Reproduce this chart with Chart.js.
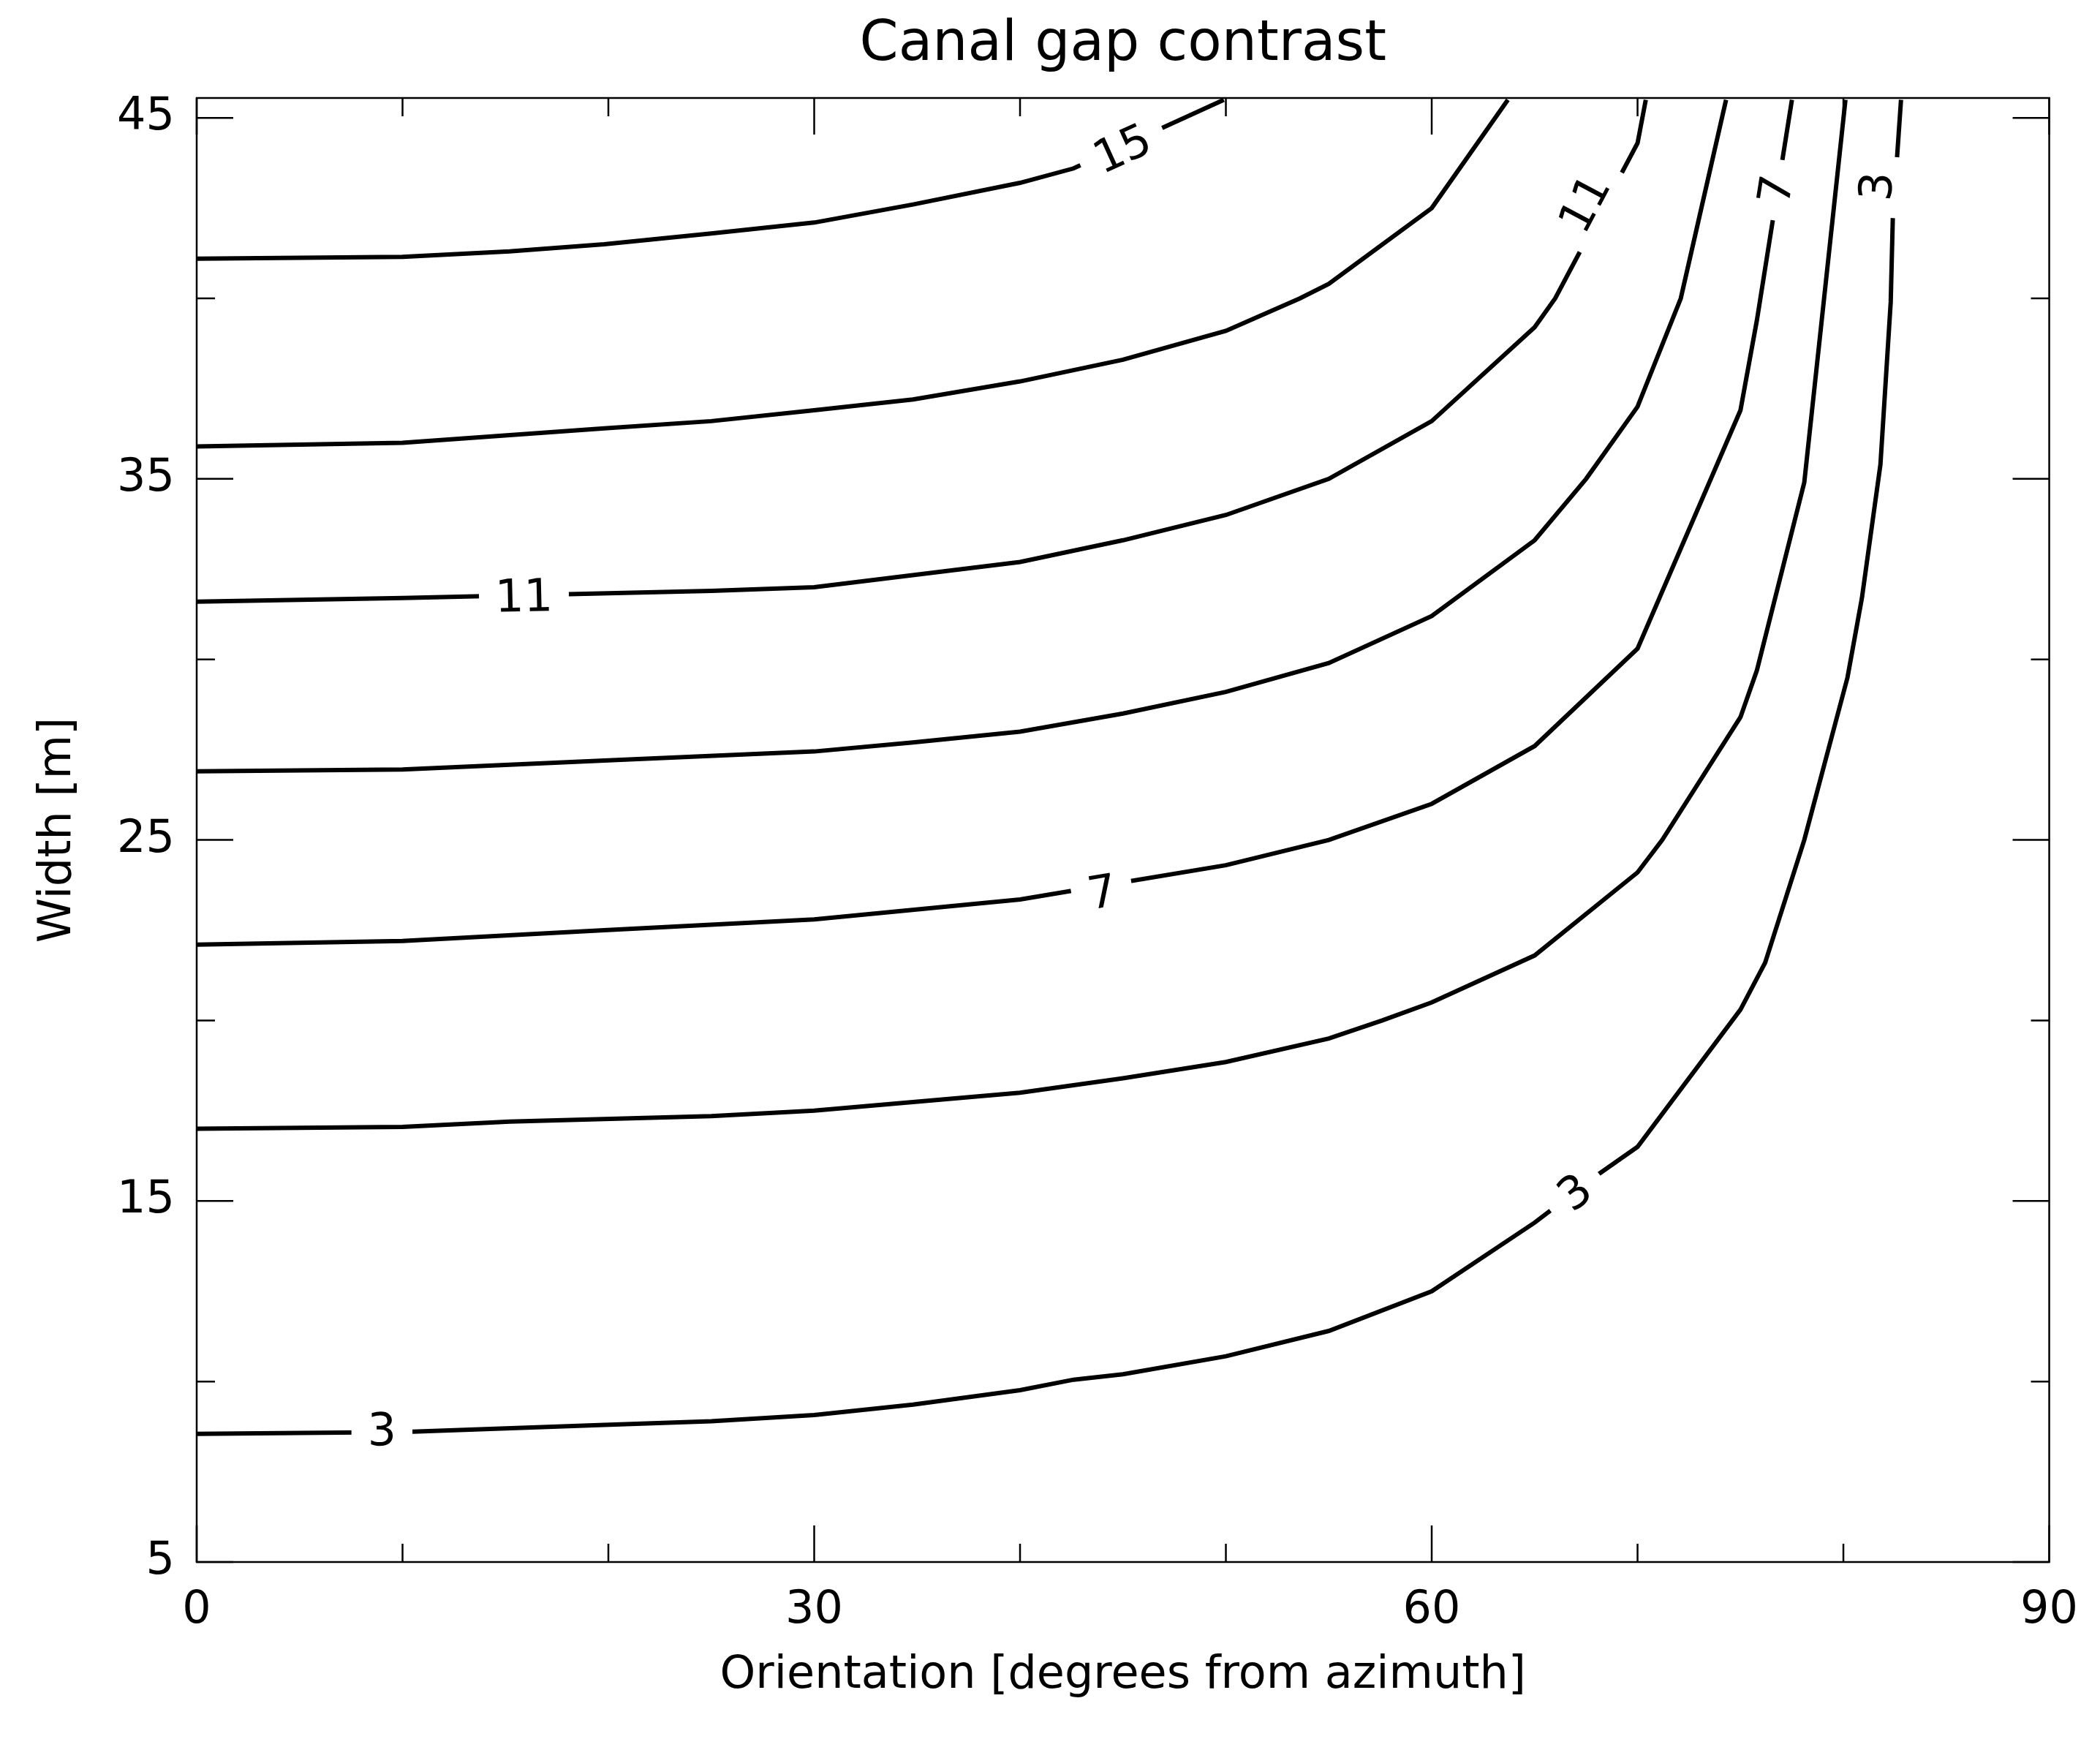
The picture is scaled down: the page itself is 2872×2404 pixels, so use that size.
<!DOCTYPE html>
<html>
<head>
<meta charset="utf-8">
<script src="https://cdn.jsdelivr.net/npm/chart.js@4/dist/chart.umd.min.js"></script>
<style>
  html, body { margin: 0; padding: 0; background: #fff; }
  #wrap { width: 2872px; height: 2404px; }
</style>
</head>
<body>
<div id="wrap"><canvas id="c"></canvas></div>
<script>
// contour lines of canal gap contrast, [orientation deg, width m]
var level3 = [[0,8.55],[10,8.6],[19.8,8.8],[25,8.9],[30,9.07],[34.8,9.36],[40,9.76],[42.6,10.05],[45,10.2],[50,10.7],[55,11.4],[60,12.5],[65,14.4],[68,15.7],[70,16.5],[75,20.3],[76.2,21.6],[78.1,25],[80.2,29.5],[80.9,31.7],[81.8,35.4],[82.3,39.9],[82.4,42.2],[82.8,45.5]];
var level5 = [[0,17.0],[10,17.05],[15.2,17.2],[25,17.35],[30,17.5],[40,18.0],[45,18.4],[50,18.85],[55,19.5],[57.6,20.0],[60,20.5],[65,21.8],[70,24.1],[71.2,25.0],[75,28.4],[75.8,29.7],[78.1,34.9],[80.1,45.5]];
var level7 = [[0,22.1],[10,22.2],[19.8,22.5],[30,22.8],[40,23.35],[42.6,23.6],[50,24.3],[55,25.0],[60,26.0],[65,27.6],[70,30.3],[75,36.9],[75.8,39.4],[77.5,45.5]];
var level9 = [[0,26.9],[10,26.95],[19.8,27.2],[30,27.45],[34.8,27.7],[40,28.0],[45,28.5],[50,29.1],[55,29.9],[60,31.2],[65,33.3],[67.5,35.0],[70,37.0],[72.1,40.0],[74.3,45.5]];
var level11 = [[0,31.6],[10,31.7],[25,31.9],[30,32.0],[40,32.7],[45,33.3],[50,34.0],[55,35.0],[60,36.6],[65,39.2],[66,40.0],[70,44.3],[70.4,45.5]];
var level13 = [[0,35.9],[10,36.0],[19.8,36.4],[25,36.6],[30,36.9],[34.8,37.2],[40,37.7],[45,38.3],[50,39.1],[53.6,40.0],[55,40.4],[60,42.5],[63.7,45.5]];
var level15 = [[0,41.1],[10,41.15],[15.2,41.3],[19.8,41.5],[25,41.8],[30,42.1],[34.8,42.6],[40,43.2],[42.6,43.6],[49.9,45.5]];

var contourLines = [level3, level5, level7, level9, level11, level13, level15];

// contour labels: text, x, y
var labelText = ['3', '3', '3', '7', '7', '11', '11', '15'];
var labelX = [9, 67, 81.7, 44, 76.8, 15.9, 67.5, 45];
var labelY = [8.6, 15.2, 43.1, 23.5, 43.0, 31.7, 42.6, 44.1];
var labelLine = [0, 0, 0, 2, 2, 4, 4, 6];

var xTicks = [0, 30, 60, 90];
var xMinor = [10, 20, 40, 50, 70, 80];
var yTicks = [5, 15, 25, 35, 45];
var yMinor = [10, 20, 30, 40];

var FONT = 'DejaVu Sans';

function slopeAt(line, x, y, xs, ys) {
	// nearest segment to the label point, angle in pixel space
	var best = 0, bd = 1e9;
	for (var i = 0; i < line.length - 1; i++) {
		var mx = (xs.getPixelForValue(line[i][0]) + xs.getPixelForValue(line[i+1][0])) / 2;
		var my = (ys.getPixelForValue(line[i][1]) + ys.getPixelForValue(line[i+1][1])) / 2;
		var d = Math.hypot(mx - xs.getPixelForValue(x), my - ys.getPixelForValue(y));
		if (d < bd) { bd = d; best = i; }
	}
	var dx = xs.getPixelForValue(line[best+1][0]) - xs.getPixelForValue(line[best][0]);
	var dy = ys.getPixelForValue(line[best+1][1]) - ys.getPixelForValue(line[best][1]);
	var a = Math.atan2(dy, dx);
	if (a > Math.PI / 2) a -= Math.PI;
	if (a < -Math.PI / 2) a += Math.PI;
	return a;
}

var framePlugin = {
	id: 'frame',
	afterDatasetsDraw: function(chart) {
		var ctx = chart.ctx, a = chart.chartArea;
		var xs = chart.scales.x, ys = chart.scales.y;
		ctx.save();
		// contour labels
		ctx.font = '62px ' + FONT;
		ctx.textAlign = 'center';
		ctx.textBaseline = 'middle';
		for (var i = 0; i < labelText.length; i++) {
			var px = xs.getPixelForValue(labelX[i]), py = ys.getPixelForValue(labelY[i]);
			var ang = slopeAt(contourLines[labelLine[i]], labelX[i], labelY[i], xs, ys);
			var w = ctx.measureText(labelText[i]).width + 44;
			ctx.save();
			ctx.translate(px, py);
			ctx.rotate(ang);
			ctx.fillStyle = '#fff';
			ctx.fillRect(-w / 2, -30, w, 60);
			ctx.fillStyle = '#000';
			ctx.fillText(labelText[i], 0, 2);
			ctx.restore();
		}
		// box and ticks
		ctx.strokeStyle = '#000';
		ctx.lineWidth = 2.5;
		ctx.strokeRect(a.left, a.top, a.right - a.left, a.bottom - a.top);
		ctx.beginPath();
		xTicks.concat(xMinor).forEach(function(v) {
			var L = xTicks.indexOf(v) >= 0 ? 50 : 25;
			var p = xs.getPixelForValue(v);
			ctx.moveTo(p, a.bottom); ctx.lineTo(p, a.bottom - L);
			ctx.moveTo(p, a.top); ctx.lineTo(p, a.top + L);
		});
		yTicks.concat(yMinor).forEach(function(v) {
			var L = yTicks.indexOf(v) >= 0 ? 50 : 25;
			var p = ys.getPixelForValue(v);
			ctx.moveTo(a.left, p); ctx.lineTo(a.left + L, p);
			ctx.moveTo(a.right, p); ctx.lineTo(a.right - L, p);
		});
		ctx.stroke();
		// titles
		ctx.fillStyle = '#000';
		ctx.font = '76px ' + FONT;
		ctx.textBaseline = 'middle';
		ctx.fillText('Canal gap contrast', (a.left + a.right) / 2, 62);
		ctx.font = '62px ' + FONT;
		ctx.fillText('Orientation [degrees from azimuth]', (a.left + a.right) / 2, 2292);
		ctx.translate(80, (a.top + a.bottom) / 2);
		ctx.rotate(-Math.PI / 2);
		ctx.fillText('Width [m]', 0, 0);
		ctx.restore();
	}
};

var datasets = contourLines.map(function(line) {
	return {
		data: line.map(function(p) { return { x: p[0], y: p[1] }; }),
		borderColor: '#000',
		borderWidth: 6,
		pointRadius: 0,
		fill: false,
		tension: 0
	};
});

new Chart(document.getElementById('c'), {
	type: 'line',
	data: { datasets: datasets },
	plugins: [framePlugin],
	options: {
		responsive: true,
		maintainAspectRatio: false,
		animation: false,
		layout: { padding: { top: 134, right: 60, left: 0, bottom: 0 } },
		plugins: { legend: { display: false }, tooltip: { enabled: false }, title: { display: false } },
		scales: {
			x: {
				type: 'linear', min: 0, max: 90,
				grid: { display: false, drawTicks: false },
				border: { display: false },
				afterBuildTicks: function(s) { s.ticks = xTicks.map(function(v) { return { value: v }; }); },
				afterFit: function(s) { s.height = 268; },
				ticks: { color: '#000', padding: 30, font: { family: FONT, size: 62 }, maxRotation: 0 }
			},
			y: {
				type: 'linear', min: 5, max: 45.55,
				grid: { display: false, drawTicks: false },
				border: { display: false },
				afterBuildTicks: function(s) { s.ticks = yTicks.map(function(v) { return { value: v }; }); },
				afterFit: function(s) { s.width = 269; },
				ticks: { color: '#000', padding: 30, font: { family: FONT, size: 62 } }
			}
		}
	}
});
</script>
</body>
</html>
